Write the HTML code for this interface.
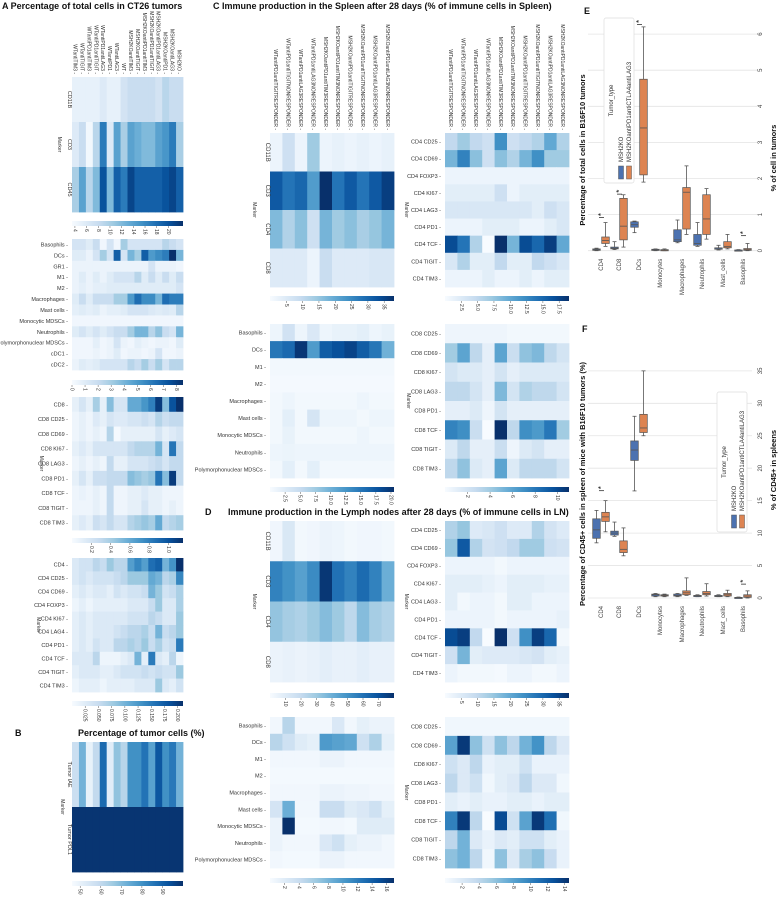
<!DOCTYPE html>
<html><head><meta charset="utf-8">
<style>
html,body{margin:0;padding:0;background:#fff;}
svg{display:block;font-family:"Liberation Sans",sans-serif;}
</style></head>
<body>
<svg id="fig" width="779" height="900" viewBox="0 0 779 900" xmlns="http://www.w3.org/2000/svg">
<defs>
<linearGradient id="blues" x1="0" x2="1" y1="0" y2="0">
<stop offset="0" stop-color="#f7fbff"/><stop offset="0.125" stop-color="#deebf7"/><stop offset="0.25" stop-color="#c6dbef"/><stop offset="0.375" stop-color="#9ecae1"/><stop offset="0.5" stop-color="#6baed6"/><stop offset="0.625" stop-color="#4292c6"/><stop offset="0.75" stop-color="#2171b5"/><stop offset="0.875" stop-color="#08519c"/><stop offset="1" stop-color="#08306b"/>
</linearGradient>
</defs>
<g font-weight="bold" font-size="9" fill="#111">
<text x="2" y="9">A  Percentage of total cells in CT26 tumors</text>
<text x="15" y="736">B</text>
<text x="78" y="736">Percentage of tumor cells (%)</text>
<text x="213" y="9">C   Immune production in the Spleen after 28 days (%  of immune cells in Spleen)</text>
<text x="205" y="515">D</text>
<text x="228" y="515">Immune production in the Lymph nodes after 28 days (%  of immune cells in LN)</text>
<text x="584" y="14">E</text>
<text x="582" y="332">F</text>
</g>
</svg>
<script>
// ---------- heatmap data ----------
const colsA = ["WTantiTIM3","WTantiTIGIT","WTantiPD1antiTIM3","WTantiPD1antiTIGIT","WTantiPD1antiLAG3","WTantiPD1","WTantiLAG3","WT","MSH2KOantiTIM3","MSH2KOantiTIGIT","MSH2KOantiPD1antiTIM3","MSH2KOantiPD1antiTIGIT","MSH2KOantiPD1antiLAG3","MSH2KOantiPD1","MSH2KOantiLAG3","MSH2KO"];
const colsC = ["WTantiPD1antiTIGITRESPONDER","WTantiPD1antiTIGITNONRESPONDER","WTantiPD1antiLAG3RESPONDER","WTantiPD1antiLAG3NONRESPONDER","MSH2KOantiPD1antiTIM3RESPONDER","MSH2KOantiPD1antiTIM3NONRESPONDER","MSH2KOantiPD1antiTIGITRESPONDER","MSH2KOantiPD1antiTIGITNONRESPONDER","MSH2KOantiPD1antiLAG3RESPONDER","MSH2KOantiPD1antiLAG3NONRESPONDER"];

const rowsA1 = ["CD11B","CD3","CD45"];
const valsA1 = [
[5,5,5,5,6,5,5,7,8,8,8,8,7,9,8,8],
[6,8,4,9,17,6,14,10,14,13,12,12,14,15,17,10],
[10,14,9,12,20,12,19,17,21,19,19,19,19,20,21,19]];
const ticksA1 = [4,6,8,10,12,14,16,18,20];

const rowsA2 = ["Basophils","DCs","GR1","M1","M2","Macrophages","Mast cells","Monocytic MDSCs","Neutrophils","Polymorphonuclear MDSCs","cDC1","cDC2"];
const valsA2 = [
[1.5,1.5,1,2,0.3,1.5,0.3,3,1.5,1.5,1.5,1.5,1.5,2.5,2,1.5],
[1,1,0.5,1.5,3,1.5,7,1.5,4,3,7,5,5.5,6,8.5,4],
[0.5,0.5,0.5,0.5,0.5,0.5,0.5,0.5,0.5,0.5,0.5,1.5,0.5,0.5,0.5,0.3],
[0.5,1,0.5,1,0.5,1,1.5,1.5,1.5,2.5,1,2,1,2,1,2],
[0.5,0.8,0.5,0.8,0.8,1,1,1,1,1,1,1,1,1,1,1.5],
[1,2,1,2,2,2,3,3,5,6.5,5.5,5.5,4,6.5,6,6],
[0.8,1,0.8,1,0.5,0.8,0.8,1,1.5,1.5,1.5,1.2,1,1.2,1,2.5],
[0.3,0.3,0.3,0.3,0.3,0.3,0.3,0.3,0.3,0.3,0.3,0.3,0.3,0.3,0.3,0.3],
[1,1.5,1,1.5,1,1.5,2,2,3,4,4,2.5,3.5,2,1.5,4],
[0.3,0.3,0.3,0.8,0.3,0.5,1.5,0.5,0.3,0.8,0.5,0.3,0.5,0.5,0.3,1],
[0.3,0.3,0.3,0.5,0.3,0.5,1,0.3,0.5,0.5,0.3,0.5,1.5,0.3,0.3,0.5],
[0.5,1,0.8,1,1.5,1.5,1.5,1.5,2.5,2,3,2,3,1.5,2.5,2.5]];
const ticksA2 = [0,1,2,3,4,5,6,7,8];

const rowsA3 = ["CD8","CD8 CD25","CD8 CD69","CD8 KI67","CD8 LAG3","CD8 PD1","CD8 TCF","CD8 TIGIT","CD8 TIM3"];
const valsA3 = [
[0.1,0.2,0.1,0.4,0.1,0.5,0.2,0.2,0.6,0.6,0.7,0.8,1.1,0.5,1.0,1.15],
[0.05,0.1,0.05,0.15,0.1,0.2,0.15,0.15,0.2,0.2,0.25,0.2,0.35,0.25,0.3,0.3],
[0.05,0.1,0.05,0.1,0.05,0.35,0.02,0.1,0.1,0.1,0.1,0.1,0.2,0.1,0.15,0.2],
[0.1,0.15,0.1,0.2,0.2,0.2,0.2,0.2,0.3,0.35,0.35,0.35,0.55,0.2,0.85,0.3],
[0.05,0.1,0.05,0.1,0.05,0.3,0.1,0.1,0.2,0.2,0.2,0.25,0.3,0.2,0.3,0.3],
[0.1,0.2,0.1,0.25,0.25,0.3,0.3,0.3,0.5,0.45,0.4,0.45,0.85,0.5,1.1,0.3],
[0.05,0.08,0.05,0.1,0.05,0.3,0.05,0.05,0.1,0.1,0.15,0.1,0.1,0.05,0.05,0.05],
[0.05,0.05,0.05,0.1,0.05,0.3,0.05,0.05,0.1,0.1,0.2,0.1,0.1,0.05,0.1,0.05],
[0.1,0.15,0.1,0.25,0.2,0.3,0.2,0.2,0.35,0.4,0.45,0.4,0.6,0.3,0.35,0.4]];
const ticksA3 = [0.2,0.4,0.6,0.8,1.0];

const rowsA4 = ["CD4","CD4 CD25","CD4 CD69","CD4 FOXP3","CD4 KI67","CD4 LAG4","CD4 PD1","CD4 TCF","CD4 TIGIT","CD4 TIM3"];
const valsA4 = [
[0.03,0.04,0.04,0.06,0.05,0.08,0.06,0.06,0.12,0.14,0.12,0.16,0.17,0.1,0.13,0.21],
[0.03,0.04,0.03,0.04,0.04,0.04,0.05,0.06,0.08,0.08,0.08,0.11,0.1,0.06,0.07,0.14],
[0.02,0.03,0.02,0.03,0.03,0.02,0.04,0.03,0.04,0.04,0.05,0.1,0.08,0.04,0.05,0.07],
[0.01,0.02,0.01,0.02,0.02,0.02,0.02,0.02,0.03,0.03,0.03,0.05,0.08,0.03,0.03,0.07],
[0.02,0.03,0.02,0.03,0.03,0.03,0.03,0.03,0.04,0.04,0.04,0.06,0.05,0.03,0.03,0.08],
[0.02,0.03,0.02,0.03,0.03,0.03,0.04,0.05,0.06,0.06,0.07,0.05,0.1,0.05,0.06,0.08],
[0.02,0.03,0.02,0.04,0.03,0.03,0.06,0.06,0.07,0.06,0.08,0.05,0.07,0.04,0.05,0.15],
[0.03,0.03,0.03,0.06,0.01,0.01,0.01,0.02,0.03,0.1,0.02,0.15,0.03,0.02,0.06,0.01],
[0.02,0.03,0.03,0.03,0.02,0.02,0.03,0.04,0.04,0.04,0.05,0.04,0.05,0.04,0.04,0.08],
[0.01,0.02,0.02,0.02,0.01,0.02,0.02,0.02,0.02,0.03,0.03,0.03,0.08,0.03,0.02,0.04]];
const ticksA4 = [0.025,0.05,0.075,0.1,0.125,0.15,0.175,0.2];

const rowsB = ["Tumor IAE","Tumor PDL1"];
const valsB = [
[58,72,50,60,88,52,68,62,80,80,86,76,92,80,85,72],
[99,99,99,99,99,99,99,99,99,99,99,99,99,99,99,99]];
const ticksB = [50,60,70,80,90];

const rowsC1 = ["CD11B","CD3","CD4","CD8"];
const valsC1 = [
[2,8,2,14,2,3,2,3,2,3],
[32,28,30,22,38,28,32,28,32,36],
[17,12,16,8,18,14,16,13,15,18],
[5,5,5,2,9,5,5,5,6,6]];
const ticksC1 = [5,10,15,20,25,30,35];

const rowsC2 = ["CD4 CD25","CD4 CD69","CD4 FOXP3","CD4 KI67","CD4 LAG3","CD4 PD1","CD4 TCF","CD4 TIGIT","CD4 TIM3"];
const valsC2 = [
[5,7,5,4,12,4,5,6,10,6],
[9,13,8,4,8,6,9,12,7,7],
[1,1,1,1,1,1,1,1,1,1],
[2,2,2,2,4,1,2,2,2,2],
[3,3,3,3,3,3,3,2,4,3],
[1,1,1,2,2,2,1,1,2,3],
[17,14,6,0,19,9,17,15,18,10],
[3,6,2,2,5,2,2,5,4,3],
[1,1,1,2,1,1,2,1,2,2]];
const ticksC2 = [2.5,5.0,7.5,10.0,12.5,15.0,17.5];

const rowsC3 = ["Basophils","DCs","M1","M2","Macrophages","Mast cells","Monocytic MDSCs","Neutrophils","Polymorphonuclear MDSCs"];
const valsC3 = [
[1,4,1,3,1,1.5,1.5,2,1,1.5],
[15,16,20,12,17,18,19,17,15,10],
[0.5,0.5,0.5,0.5,0.5,0.5,0.5,0.5,0.5,0.5],
[0.3,0.3,0.3,0.3,0.3,0.3,0.3,0.3,0.3,0.3],
[0.5,1,0.5,0.5,0.5,0.5,0.5,1,0.5,0.5],
[0.5,2,0.5,3.5,1,1,1,0.5,1,1],
[0.5,1.5,0.5,0.5,0.5,0.5,0.5,1,0.5,0.5],
[1,1.2,1,1,1,1,1,1,1,1],
[0.5,2,0.5,2,0.5,0.5,0.5,0.5,0.5,0.5]];
const ticksC3 = [2.5,5.0,7.5,10.0,12.5,15.0,17.5,20.0];

const rowsC4 = ["CD8 CD25","CD8 CD69","CD8 KI67","CD8 LAG3","CD8 PD1","CD8 TCF","CD8 TIGIT","CD8 TIM3"];
const valsC4 = [
[0.5,0.5,0.5,0.5,0.5,0.3,0.3,0.3,0.3,0.3],
[4,6,3,1,6,2.5,4.5,5,3,2],
[2,1.5,1.5,1,2,1,1.5,1.5,1.5,1.5],
[3,3,2,1,5,2,3.5,3,3,2],
[1,1,1.5,0.5,2,1,1,1,1,1],
[7.5,7,2.5,0,11,3,7,6.5,8,4],
[1.5,3,1,1,2.5,0.5,1.5,2,1,1],
[3,4.5,1.5,1,6,1.5,3,3,3,2]];
const ticksC4 = [2,4,6,8,10];

const rowsD1 = ["CD11B","CD3","CD4","CD8"];
const valsD1 = [
[3,12,2,3,5,4,2,3,3,2],
[55,50,45,52,78,60,55,62,55,40],
[32,28,26,30,35,30,22,35,28,25],
[5,6,5,6,8,6,6,8,6,6]];
const ticksD1 = [10,20,30,40,50,60,70];

const rowsD2 = ["CD4 CD25","CD4 CD69","CD4 FOXP3","CD4 KI67","CD4 LAG3","CD4 PD1","CD4 TCF","CD4 TIGIT","CD4 TIM3"];
const valsD2 = [
[12,15,5,6,8,5,5,12,7,5],
[15,32,12,7,8,10,14,14,8,7],
[2,2,2,2,1,2,2,2,2,2],
[4,4,4,3,2,4,4,4,3,3],
[4,1,2,2,1,4,4,2,2,2],
[2,2,2,2,1,2,2,2,2,3],
[34,36,10,0,38,8,24,36,30,1],
[8,18,4,5,5,5,6,7,4,3],
[2,1,1,1,0.5,2,2,1,1,2]];
const ticksD2 = [5,10,15,20,25,30,35];

const rowsD3 = ["Basophils","DCs","M1","M2","Macrophages","Mast cells","Monocytic MDSCs","Neutrophils","Polymorphonuclear MDSCs"];
const valsD3 = [
[0.5,5,0.5,0.5,0.5,2.5,0.5,1.5,1,1],
[5,3.5,2,1.5,10,9.5,9,3.5,5.5,1.5],
[0.5,0.5,0.5,0.5,1,1,0.5,0.5,0.5,0.5],
[0.3,0.3,0.3,0.3,0.3,0.3,0.3,0.3,0.3,0.3],
[0.5,0.5,0.5,0.5,1,1,0.8,0.8,0.5,0.5],
[3,8.5,0.5,0.5,4,4,2,2.5,3.5,1.5],
[1,17,0.3,0.3,0.5,0.5,0.3,2,2,2],
[1,0.5,0.5,0.5,2.5,3.5,1.5,1,1,0.5],
[0.5,0.3,0.3,0.3,1,1,0.5,0.5,0.5,0.5]];
const ticksD3 = [2,4,6,8,10,12,14,16];

const rowsD4 = ["CD8 CD25","CD8 CD69","CD8 KI67","CD8 LAG3","CD8 PD1","CD8 TCF","CD8 TIGIT","CD8 TIM3"];
const valsD4 = [
[0.5,0.5,0.5,0.5,0.5,0.5,0.5,0.5,0.5,0.5],
[8,14,6,3,6,4,7,9,4,2],
[3,2,4,1,1.5,1.5,3,1,1,1],
[4,2,3,0.5,1.5,2,4,2,2,0.5],
[1.5,1,1.5,1,1,1.5,1.5,1,1.5,1.5],
[10,14,4,0,13,3,8,14,11,0.5],
[4,7,2,1,2,1.5,3,3,1.5,1],
[6,7,4,0.5,6,2,5,6,3.5,1]];
const ticksD4 = [2,4,6,8,10,12,14];

// ---------- boxplot data (min,q1,median,q3,max) ----------
const boxCats = ["CD4","CD8","DCs","Monocytes","Macrophages","Neutrophils","Mast_cells","Basophils"];
const eBlue = [[0,0.01,0.03,0.05,0.07],[0.03,0.05,0.07,0.1,0.25],[0.5,0.65,0.72,0.8,0.82],[0,0.01,0.02,0.04,0.05],[0.22,0.25,0.3,0.58,0.85],[0.12,0.15,0.2,0.45,0.78],[0.02,0.04,0.05,0.08,0.15],[0,0,0.01,0.02,0.03]];
const eOrange = [[0.12,0.2,0.28,0.38,0.78],[0.1,0.3,0.68,1.45,1.55],[1.9,2.1,3.4,4.75,6.2],[0,0.01,0.02,0.03,0.05],[0.45,0.6,1.62,1.75,2.35],[0.32,0.45,0.88,1.55,1.72],[0.05,0.08,0.12,0.25,0.45],[0,0.01,0.03,0.06,0.2]];
const eTicks = [0,1,2,3,4,5,6];
const eSig = [[0,1.0],[1,1.65],[2,6.35],[7,0.5]];
const fBlue = [[8.5,9.2,10.5,12.2,13.5],[9.5,9.7,10,10.3,11.7],[16.5,21.2,22.8,24.2,28],[0.2,0.3,0.5,0.6,0.7],[0.2,0.3,0.4,0.6,0.7],[0.2,0.3,0.35,0.4,0.5],[0.2,0.25,0.3,0.4,0.5],[0,0,0.05,0.1,0.15]];
const fOrange = [[10.2,11.8,12.5,13.2,15],[6.5,7,7.5,8.8,10.8],[25,25.5,26.2,28.3,35],[0.2,0.3,0.4,0.5,0.6],[0.4,0.5,0.8,1.1,3.1],[0.3,0.5,0.7,1,2.2],[0.2,0.3,0.5,0.7,1.2],[0,0.1,0.3,0.5,1.1]];
const fTicks = [0,5,10,15,20,25,30,35];
const fSig = [[0,17],[7,2.6]];

const NS = "http://www.w3.org/2000/svg";
const svg = document.getElementById('fig');
function mk(tag, attrs, parent){
  const e = document.createElementNS(NS, tag);
  for (const k in attrs) e.setAttribute(k, attrs[k]);
  (parent||svg).appendChild(e);
  return e;
}
const stops = [[247,251,255],[222,235,247],[198,219,239],[158,202,225],[107,174,214],[66,146,198],[33,113,181],[8,81,156],[8,48,107]];
function blues(t){
  t = Math.max(0, Math.min(1, t));
  const p = t*8, i = Math.min(7, Math.floor(p)), f = p - i;
  const a = stops[i], b = stops[i+1];
  return 'rgb(' + a.map((v,k)=>Math.round(v+(b[k]-v)*f)).join(',') + ')';
}

function heatmap(o){
  const g = mk('g', {});
  
  
  const nr = o.vals.length, nc = o.vals[0].length;
  const cw = o.w/nc, ch = o.h/nr;
  const sx = v => o.x + (v - o.vmin)/(o.vmax - o.vmin)*o.w;
  for (let r=0;r<nr;r++) for (let c=0;c<nc;c++){
    const cell = mk('rect', {x:(o.x+c*cw).toFixed(2), y:(o.y+r*ch).toFixed(2), width:(cw+0.4).toFixed(2), height:(ch+0.4).toFixed(2), fill:blues((o.vals[r][c]-o.vmin)/(o.vmax-o.vmin))}, g);
    
    
  }
  // row labels
  o.rows.forEach((lab,r)=>{
    const cy = o.y + (r+0.5)*ch;
    let t;
    if (o.rotRows){
      t = mk('text', {x:o.x-4, y:cy, 'font-size':o.fs||5.5, fill:'#333', 'text-anchor':'middle', transform:'rotate(90 '+(o.x-4)+' '+cy+')'}, g);
    } else {
      t = mk('text', {x:o.x-4, y:cy+2, 'font-size':o.fs||5.5, fill:'#333', 'text-anchor':'end'}, g);
    }
    t.textContent = lab + (o.rotRows ? '' : ' -');
    
    
  });
  if (o.cols){
    o.cols.forEach((lab,c)=>{
      const cx = o.x + (c+0.5)*cw - 2;
      const ty = o.y - 3;
      const t = mk('text', {x:cx, y:ty, 'font-size':o.cfs||5, fill:'#333', 'text-anchor':'end', transform:'rotate(90 '+cx+' '+ty+')'}, g);
      t.textContent = lab + ' -';
      
      
    });
  }
  if (o.marker){
    const mx = o.marker, my = o.y + o.h/2;
    const t = mk('text', {x:mx, y:my, 'font-size':5, fill:'#333', 'text-anchor':'middle', transform:'rotate(90 '+mx+' '+my+')'}, g);
    t.textContent = 'Marker';
    
    
  }
  // colorbar
  const cb = mk('rect', {x:o.x, y:o.cby, width:o.w, height:5, fill:'url(#blues)'}, g);
  
  
  o.ticks.forEach(v=>{
    const tx = sx(v);
    mk('line', {x1:tx, x2:tx, y1:o.cby+5, y2:o.cby+7, stroke:'#555', 'stroke-width':0.5}, g);
    const ty = o.cby+8;
    const t = mk('text', {x:tx-1.5, y:ty, 'font-size':5, fill:'#333', 'text-anchor':'start', transform:'rotate(90 '+(tx-1.5)+' '+ty+')'}, g);
    t.textContent = String(v.toFixed ? (o.dec!=null ? v.toFixed(o.dec) : v) : v);
    
    
  });
}

heatmap({name:'heatmap-a-markers', x:72, y:77, w:111, h:135, vals:valsA1, rows:rowsA1, rotRows:true, cols:colsA, vmin:3.5, vmax:22.5, ticks:ticksA1, cby:221, marker:58});
heatmap({name:'heatmap-a-myeloid', x:72, y:239, w:111, h:131, vals:valsA2, rows:rowsA2, vmin:0, vmax:8.5, ticks:ticksA2, cby:380});
heatmap({name:'heatmap-a-cd8', x:72, y:397, w:111, h:133, vals:valsA3, rows:rowsA3, vmin:0, vmax:1.15, ticks:ticksA3, cby:538, marker:40, dec:1});
heatmap({name:'heatmap-a-cd4', x:72, y:558, w:111, h:134, vals:valsA4, rows:rowsA4, vmin:0, vmax:0.21, ticks:ticksA4, cby:701, marker:37, dec:3});
heatmap({name:'heatmap-b-tumor', x:72, y:742, w:111, h:130, vals:valsB, rows:rowsB, rotRows:true, vmin:46, vmax:100, ticks:ticksB, cby:881, marker:61});
heatmap({name:'heatmap-c-spleen-markers', x:270, y:133, w:124, h:154, vals:valsC1, rows:rowsC1, rotRows:true, cols:colsC, vmin:0, vmax:38, ticks:ticksC1, cby:296, marker:253, fs:6});
heatmap({name:'heatmap-c-spleen-cd4', x:445, y:133, w:124, h:154, vals:valsC2, rows:rowsC2, cols:colsC, vmin:0, vmax:19, ticks:ticksC2, cby:296, marker:405, fs:5.5, dec:1});
heatmap({name:'heatmap-c-spleen-myeloid', x:270, y:324, w:124, h:154, vals:valsC3, rows:rowsC3, vmin:0, vmax:20.5, ticks:ticksC3, cby:487, fs:5.5, dec:1});
heatmap({name:'heatmap-c-spleen-cd8', x:445, y:324, w:124, h:154, vals:valsC4, rows:rowsC4, vmin:0, vmax:11, ticks:ticksC4, cby:487, marker:407, fs:5.5});
heatmap({name:'heatmap-d-ln-markers', x:270, y:521, w:124, h:161, vals:valsD1, rows:rowsD1, rotRows:true, vmin:0, vmax:80, ticks:ticksD1, cby:693, marker:253, fs:6});
heatmap({name:'heatmap-d-ln-cd4', x:445, y:521, w:124, h:161, vals:valsD2, rows:rowsD2, vmin:0, vmax:38, ticks:ticksD2, cby:693, marker:405, fs:5.5});
heatmap({name:'heatmap-d-ln-myeloid', x:270, y:717, w:124, h:151, vals:valsD3, rows:rowsD3, vmin:0, vmax:17, ticks:ticksD3, cby:878, fs:5.5});
heatmap({name:'heatmap-d-ln-cd8', x:445, y:717, w:124, h:151, vals:valsD4, rows:rowsD4, vmin:0, vmax:14.5, ticks:ticksD4, cby:878, marker:405, fs:5.5});

// ---------- boxplots ----------
const catX = [601,619,639,660,682,702,723,743];
function boxplot(o){
  const g = mk('g', {});
  
  
  const sy = v => o.y0 - v*o.k;
  o.ticks.forEach(v=>{
    const gl = mk('line', {x1:588, x2:o.gx2, y1:sy(v), y2:sy(v), stroke:'#e4e4e4', 'stroke-width':0.8}, g);
    
    
    const ty = sy(v);
    const t = mk('text', {x:762, y:ty, 'font-size':6, fill:'#444', 'text-anchor':'middle', transform:'rotate(-90 762 '+ty+')'}, g);
    t.textContent = v;
    
    
  });
  boxCats.forEach((c,i)=>{
    [[o.blue[i],'#4c72b0',-4.5],[o.orange[i],'#dd8452',4.5]].forEach(([d,col,off])=>{
      const x = catX[i]+off;
      mk('line', {x1:x, x2:x, y1:sy(d[0]), y2:sy(d[4]), stroke:'#555', 'stroke-width':0.8}, g);
      mk('line', {x1:x-2, x2:x+2, y1:sy(d[0]), y2:sy(d[0]), stroke:'#555', 'stroke-width':0.8}, g);
      mk('line', {x1:x-2, x2:x+2, y1:sy(d[4]), y2:sy(d[4]), stroke:'#555', 'stroke-width':0.8}, g);
      const b = mk('rect', {x:x-3.8, y:sy(d[3]), width:7.6, height:Math.max(1.2, sy(d[1])-sy(d[3])), fill:col, stroke:'#555', 'stroke-width':0.7}, g);
      
      
      mk('line', {x1:x-3.8, x2:x+3.8, y1:sy(d[2]), y2:sy(d[2]), stroke:'#555', 'stroke-width':0.8}, g);
    });
    const ly = o.y0 + 8;
    const t = mk('text', {x:catX[i]+2, y:ly, 'font-size':6, fill:'#444', 'text-anchor':'end', transform:'rotate(-90 '+(catX[i]+2)+' '+ly+')'}, g);
    t.textContent = c;
    
    
  });
  o.sig.forEach(([i,v])=>{
    const y = sy(v);
    mk('line', {x1:catX[i]-2, x2:catX[i]+3, y1:y+3, y2:y+3, stroke:'#333', 'stroke-width':0.8}, g);
    const t = mk('text', {x:catX[i]+3, y:y, 'font-size':8, fill:'#111', 'text-anchor':'middle', transform:'rotate(-90 '+(catX[i]+3)+' '+y+')'}, g);
    t.textContent = '*';
    
    
  });
  // axis titles
  const at = mk('text', {x:776, y:o.atY, 'font-size':7.5, 'font-weight':'bold', fill:'#111', 'text-anchor':'middle', transform:'rotate(-90 776 '+o.atY+')'}, g);
  at.textContent = o.axisTitle;
  
  
  const lt = mk('text', {x:585, y:o.ltY, 'font-size':7.5, 'font-weight':'bold', fill:'#111', 'text-anchor':'middle', transform:'rotate(-90 585 '+o.ltY+')'}, g);
  lt.textContent = o.sideTitle;
  
  
  // legend
  const L = o.leg;
  const lg = mk('g', {}, g);
  
  
  mk('rect', {x:L.x, y:L.y, width:30, height:L.h, fill:'#fff', stroke:'#ddd', 'stroke-width':0.7, rx:2}, lg);
  const ttx = L.x+9, tty = L.y + L.h/2;
  const tt = mk('text', {x:ttx, y:tty, 'font-size':6, fill:'#333', 'text-anchor':'middle', transform:'rotate(-90 '+ttx+' '+tty+')'}, lg);
  tt.textContent = 'Tumor_type';
  [['MSH2KO','#4c72b0',17],['MSH2KOantiPD1antiCTLA4antiLAG3','#dd8452',25]].forEach(([lab,col,dx])=>{
    const px = L.x+dx;
    const sw = mk('rect', {x:px-2.5, y:L.y+L.h-17, width:5, height:13, fill:col, stroke:'#555', 'stroke-width':0.5}, lg);
    
    
    const ty = L.y+L.h-21;
    const t = mk('text', {x:px+2, y:ty, 'font-size':6, fill:'#333', 'text-anchor':'start', transform:'rotate(-90 '+(px+2)+' '+ty+')'}, lg);
    t.textContent = lab;
    
    
  });
}
boxplot({name:'boxplot-e-tumors', y0:250.7, k:36.1, gx2:757, ticks:eTicks, blue:eBlue, orange:eOrange, sig:eSig,
  axisTitle:'% of cell in tumors', atY:158, sideTitle:'Percentage of total cells in B16F10 tumors', ltY:150,
  leg:{x:604, y:18, h:165}});
boxplot({name:'boxplot-f-spleens', y0:598, k:6.49, gx2:752, ticks:fTicks, blue:fBlue, orange:fOrange, sig:fSig,
  axisTitle:'% of CD45+ in spleens', atY:470, sideTitle:'Percentage of CD45+ cells in spleen of mice with B16F10 tumors (%)', ltY:484,
  leg:{x:717, y:392, h:140}});
</script>
</body></html>
